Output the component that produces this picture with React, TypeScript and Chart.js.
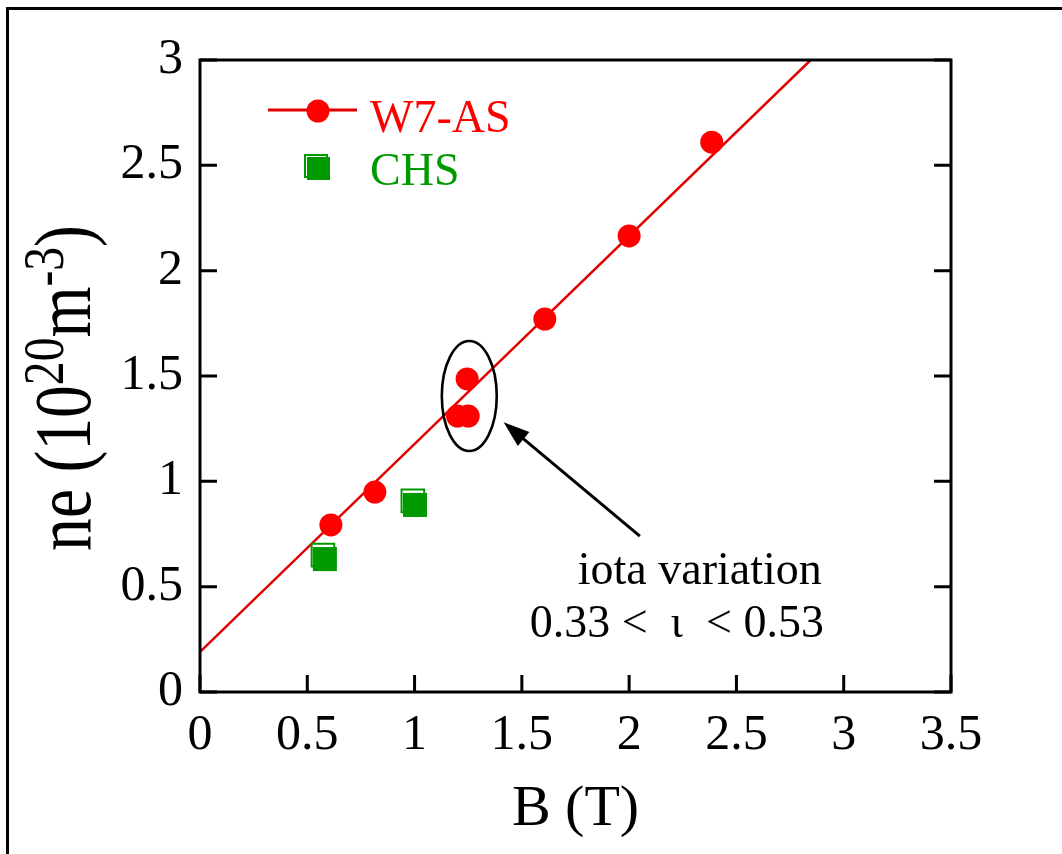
import React, { useEffect, useRef } from 'react';
import { Chart, registerables } from 'chart.js';

Chart.register(...registerables);

// ---- data ----
const W7AS_B = [0.61, 0.815, 1.2, 1.25, 1.245, 1.607, 2.0, 2.385];
const W7AS_NE = [0.793, 0.949, 1.31, 1.31, 1.486, 1.77, 2.165, 2.61];
const CHS_B_A = [0.573, 0.992];
const CHS_NE_A = [0.65, 0.907];
const CHS_B_B = [0.582, 1.002];
const CHS_NE_B = [0.631, 0.888];
const FIT_B = [0, 2.846];
const FIT_NE = [0.19, 3.0];
const X_TICKS = [0, 0.5, 1, 1.5, 2, 2.5, 3, 3.5];
const Y_TICKS = [0, 0.5, 1, 1.5, 2, 2.5, 3];
const ELLIPSE = { b: 1.255, ne: 1.405, rb: 0.128, rne: 0.261 };
const ARROW_TAIL = { b: 2.05, ne: 0.74 };
const ARROW_TIP = { b: 1.415, ne: 1.28 };
const NOTE_LINES = ['iota variation', '0.33 <\u2002\u03B9\u2002< 0.53'];
const NOTE_B = [2.329, 2.222];
const NOTE_NE = [0.513, 0.261];

const RED = '#ff0000';
const LINE_RED = '#e00000';
const GREEN = '#009a00';
const SERIF = '"Liberation Serif", "Times New Roman", serif';

const pts = (xs: number[], ys: number[]) => xs.map((x, i) => ({ x, y: ys[i] }));
const fmt = (v: any) => String(Number(v));

const decorPlugin = {
  id: 'decor',
  afterDraw(chart: any) {
    const ctx = chart.ctx as CanvasRenderingContext2D;
    const xs = chart.scales.x;
    const ys = chart.scales.y;
    const a = chart.chartArea;
    ctx.save();

    // outer frame
    ctx.strokeStyle = '#000';
    ctx.lineWidth = 3;
    ctx.beginPath();
    ctx.moveTo(7.5, 854);
    ctx.lineTo(7.5, 8.5);
    ctx.lineTo(1062, 8.5);
    ctx.stroke();

    // plot frame
    ctx.lineWidth = 3;
    ctx.strokeRect(a.left, a.top, a.right - a.left, a.bottom - a.top);

    // inward ticks
    const TL = 17;
    ctx.beginPath();
    X_TICKS.forEach((v) => {
      const px = xs.getPixelForValue(v);
      ctx.moveTo(px, a.bottom);
      ctx.lineTo(px, a.bottom - TL);
    });
    Y_TICKS.forEach((v) => {
      const py = ys.getPixelForValue(v);
      ctx.moveTo(a.left, py);
      ctx.lineTo(a.left + TL, py);
      ctx.moveTo(a.right, py);
      ctx.lineTo(a.right - TL, py);
    });
    ctx.stroke();

    // x title
    ctx.fillStyle = '#000';
    ctx.font = `58px ${SERIF}`;
    ctx.textAlign = 'center';
    ctx.textBaseline = 'alphabetic';
    ctx.fillText('B (T)', (a.left + a.right) / 2, 825);

    // y title (stretched like the reference)
    const parts = [
      { t: 'ne (10', sup: false },
      { t: '20', sup: true },
      { t: 'm', sup: false },
      { t: '-3', sup: true },
      { t: ')', sup: false },
    ];
    const mainFont = `80px ${SERIF}`;
    const supFont = `58px ${SERIF}`;
    let W = 0;
    const widths = parts.map((p) => {
      ctx.font = p.sup ? supFont : mainFont;
      const w = ctx.measureText(p.t).width;
      W += w;
      return w;
    });
    ctx.save();
    ctx.translate(90, 388);
    ctx.rotate(-Math.PI / 2);
    const k = 0.82;
    ctx.scale(k, 1);
    ctx.textAlign = 'left';
    let cx = -W / 2;
    parts.forEach((p, i) => {
      ctx.font = p.sup ? supFont : mainFont;
      ctx.fillText(p.t, cx, p.sup ? -27 : 0);
      cx += widths[i];
    });
    ctx.restore();

    // legend
    ctx.strokeStyle = LINE_RED;
    ctx.lineWidth = 3;
    ctx.beginPath();
    ctx.moveTo(268, 110);
    ctx.lineTo(357, 110);
    ctx.stroke();
    ctx.fillStyle = RED;
    ctx.beginPath();
    ctx.arc(318, 111, 11.5, 0, Math.PI * 2);
    ctx.fill();
    ctx.font = `46px ${SERIF}`;
    ctx.textAlign = 'left';
    ctx.fillText('W7-AS', 370, 132);
    // CHS legend marker
    ctx.strokeStyle = GREEN;
    ctx.lineWidth = 2;
    ctx.fillStyle = '#fff';
    ctx.fillRect(305, 155, 22, 22);
    ctx.strokeRect(305, 155, 22, 22);
    ctx.fillStyle = GREEN;
    ctx.fillRect(307, 157, 23, 23);
    ctx.fillText('CHS', 370, 185);

    // annotation ellipse
    const ex = xs.getPixelForValue(ELLIPSE.b);
    const ey = ys.getPixelForValue(ELLIPSE.ne);
    const erx = xs.getPixelForValue(ELLIPSE.b + ELLIPSE.rb) - ex;
    const ery = ey - ys.getPixelForValue(ELLIPSE.ne + ELLIPSE.rne);
    ctx.strokeStyle = '#000';
    ctx.lineWidth = 2.6;
    ctx.beginPath();
    ctx.ellipse(ex, ey, erx, ery, 0, 0, Math.PI * 2);
    ctx.stroke();

    // arrow
    const tx = xs.getPixelForValue(ARROW_TAIL.b);
    const ty = ys.getPixelForValue(ARROW_TAIL.ne);
    const hx = xs.getPixelForValue(ARROW_TIP.b);
    const hy = ys.getPixelForValue(ARROW_TIP.ne);
    const ang = Math.atan2(hy - ty, hx - tx);
    const HL = 26;
    const HW = 9;
    const bx = hx - HL * Math.cos(ang);
    const by = hy - HL * Math.sin(ang);
    ctx.lineWidth = 3;
    ctx.beginPath();
    ctx.moveTo(tx, ty);
    ctx.lineTo(bx + 4 * Math.cos(ang), by + 4 * Math.sin(ang));
    ctx.stroke();
    ctx.fillStyle = '#000';
    ctx.beginPath();
    ctx.moveTo(hx, hy);
    ctx.lineTo(bx + HW * Math.sin(ang), by - HW * Math.cos(ang));
    ctx.lineTo(bx - HW * Math.sin(ang), by + HW * Math.cos(ang));
    ctx.closePath();
    ctx.fill();

    // annotation text
    ctx.font = `46px ${SERIF}`;
    ctx.textAlign = 'center';
    ctx.fillStyle = '#000';
    NOTE_LINES.forEach((line, i) => {
      ctx.fillText(line, xs.getPixelForValue(NOTE_B[i]), ys.getPixelForValue(NOTE_NE[i]));
    });

    ctx.restore();
  },
};

export default function App() {
  const ref = useRef<HTMLCanvasElement | null>(null);
  useEffect(() => {
    if (!ref.current) return;
    const chart = new Chart(ref.current, {
      type: 'scatter',
      data: {
        datasets: [
          {
            label: 'CHS',
            data: pts(CHS_B_B, CHS_NE_B),
            pointStyle: 'rect',
            pointRadius: 17,
            pointBackgroundColor: GREEN,
            pointBorderColor: GREEN,
            pointBorderWidth: 0,
            showLine: false,
            order: 0,
          } as any,
          {
            label: 'CHS (2)',
            data: pts(CHS_B_A, CHS_NE_A),
            pointStyle: 'rect',
            pointRadius: 16,
            pointBackgroundColor: '#ffffff',
            pointBorderColor: GREEN,
            pointBorderWidth: 2,
            showLine: false,
            order: 1,
          } as any,
          {
            label: 'W7-AS',
            data: pts(W7AS_B, W7AS_NE),
            pointStyle: 'circle',
            pointRadius: 11.5,
            pointBackgroundColor: RED,
            pointBorderColor: RED,
            pointBorderWidth: 0,
            showLine: false,
            order: 2,
          } as any,
          {
            label: 'fit',
            type: 'line',
            data: pts(FIT_B, FIT_NE),
            borderColor: LINE_RED,
            borderWidth: 2.5,
            pointRadius: 0,
            fill: false,
            order: 3,
          } as any,
        ],
      },
      options: {
        responsive: false,
        animation: false,
        events: [],
        layout: { padding: { left: 0, right: 111, top: 60, bottom: 0 } },
        plugins: { legend: { display: false }, tooltip: { enabled: false } },
        scales: {
          x: {
            type: 'linear',
            min: 0,
            max: 3.5,
            afterFit: (s: any) => { s.height = 162; },
            afterBuildTicks: (s: any) => { s.ticks = X_TICKS.map((v) => ({ value: v })); },
            grid: { display: false, drawTicks: false },
            border: { display: false },
            ticks: {
              color: '#000',
              padding: 14,
              maxRotation: 0,
              autoSkip: false,
              callback: fmt,
              font: { family: SERIF, size: 50 },
            },
          },
          y: {
            type: 'linear',
            min: 0,
            max: 3,
            afterFit: (s: any) => { s.width = 200; },
            afterBuildTicks: (s: any) => { s.ticks = Y_TICKS.map((v) => ({ value: v })); },
            grid: { display: false, drawTicks: false },
            border: { display: false },
            ticks: {
              color: '#000',
              padding: 17,
              autoSkip: false,
              callback: fmt,
              font: { family: SERIF, size: 50 },
            },
          },
        },
      },
      plugins: [decorPlugin],
    });
    return () => chart.destroy();
  }, []);
  return (
    <div style={{ position: 'fixed', left: 0, top: 0, width: 1062, height: 854, background: '#fff' }}>
      <canvas ref={ref} width={1062} height={854} style={{ display: 'block' }} />
    </div>
  );
}
